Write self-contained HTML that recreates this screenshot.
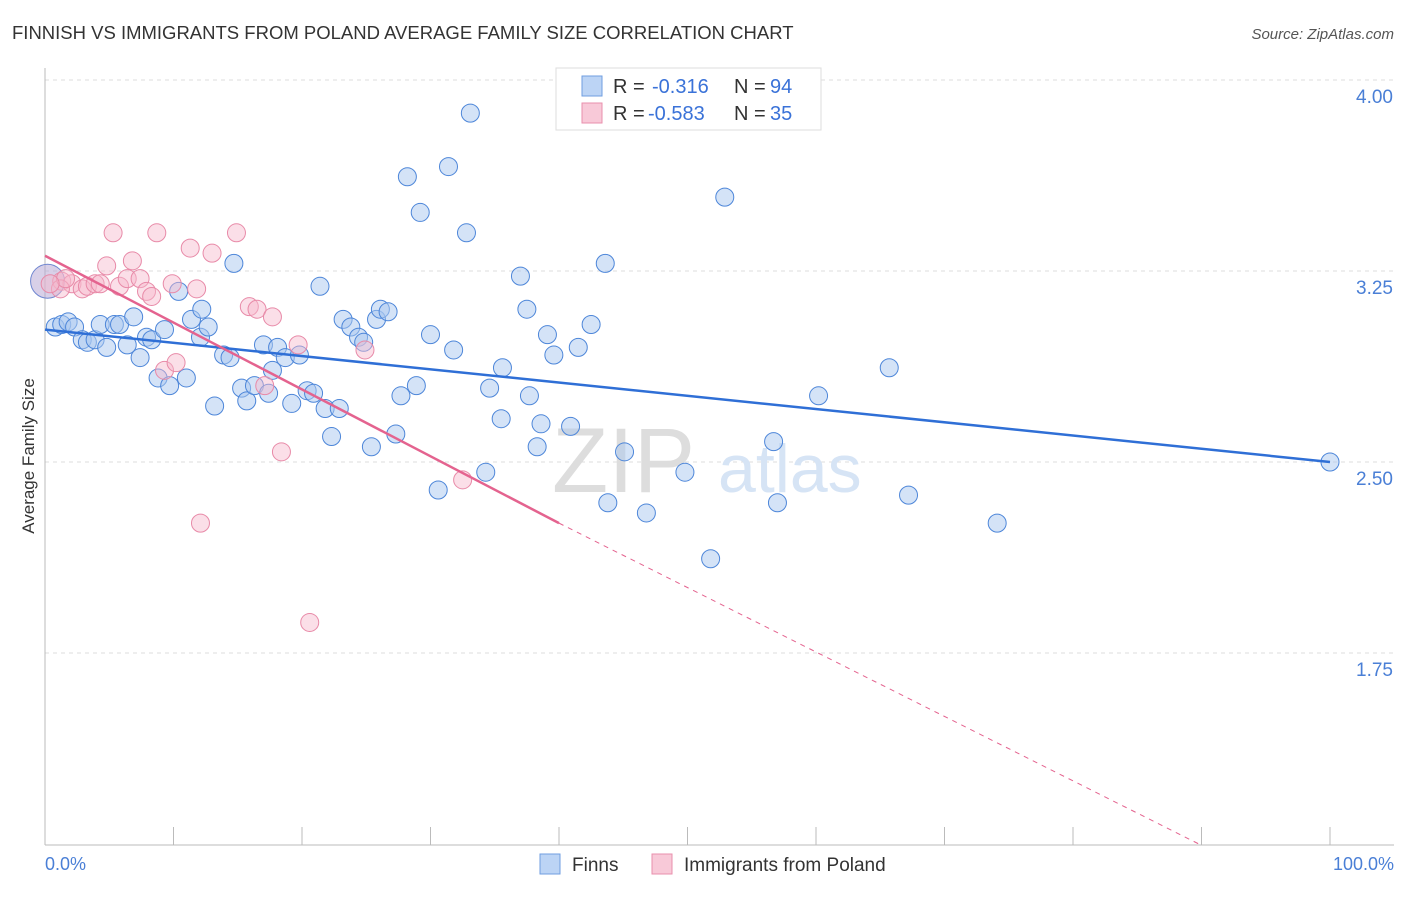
<!DOCTYPE html>
<html><head><meta charset="utf-8"><style>
body{margin:0;background:#fff;font-family:"Liberation Sans",sans-serif;}
svg text{font-family:"Liberation Sans",sans-serif;}
</style></head><body>
<svg width="1406" height="892">
<text x="12" y="39" font-size="18.5" fill="#333">FINNISH VS IMMIGRANTS FROM POLAND AVERAGE FAMILY SIZE CORRELATION CHART</text>
<text x="1394" y="39" font-size="15" fill="#555" text-anchor="end" font-style="italic">Source: ZipAtlas.com</text>
<g id="grid"></g>
<g>
<text x="552" y="492" font-size="92" fill="#ddd" font-family="Liberation Serif">ZIP</text>
<text x="718" y="492" font-size="68" fill="#d6e4f5">atlas</text>
</g>
<line x1="45" y1="68" x2="45" y2="845" stroke="#bbb"/>
<line x1="45" y1="845" x2="1394" y2="845" stroke="#bbb"/>
<g id="ticks"></g>
<g id="ylabels"></g>
<text x="45" y="870" font-size="18" fill="#4a7fd6">0.0%</text>
<text x="1394" y="870" font-size="18" fill="#4a7fd6" text-anchor="end">100.0%</text>
<text transform="translate(34,456) rotate(-90)" font-size="17" fill="#333" text-anchor="middle">Average Family Size</text>
<g id="pts"></g>
<g id="lines"></g>
<g>
<rect x="556" y="68" width="265" height="62" fill="#fff" stroke="#ddd"/>
<rect x="582" y="76" width="20" height="20" fill="#bcd4f5" stroke="#6f9ee0"/>
<rect x="582" y="103" width="20" height="20" fill="#f8c9d8" stroke="#e98fac"/>
<text x="613" y="93" font-size="20" fill="#333">R =</text>
<text x="652" y="93" font-size="20" fill="#3a72d8">-0.316</text>
<text x="734" y="93" font-size="20" fill="#333">N =</text>
<text x="770" y="93" font-size="20" fill="#3a72d8">94</text>
<text x="613" y="120" font-size="20" fill="#333">R =</text>
<text x="648" y="120" font-size="20" fill="#3a72d8">-0.583</text>
<text x="734" y="120" font-size="20" fill="#333">N =</text>
<text x="770" y="120" font-size="20" fill="#3a72d8">35</text>
</g>
<g>
<rect x="540" y="854" width="20" height="20" fill="#bcd4f5" stroke="#6f9ee0"/>
<text x="572" y="871" font-size="19" fill="#333">Finns</text>
<rect x="652" y="854" width="20" height="20" fill="#f8c9d8" stroke="#e98fac"/>
<text x="684" y="871" font-size="19" fill="#333">Immigrants from Poland</text>
</g>
</svg>
<script>
const yTicks=[4.00,3.25,2.50,1.75];
const xTickCount=10;
const finnsX=[0.8,1.3,1.8,2.3,2.9,3.3,3.9,4.3,4.8,5.4,
5.8,6.4,6.9,7.4,7.9,8.3,8.8,9.3,9.7,10.4,
11.0,11.4,12.1,12.2,12.7,13.2,13.9,14.4,14.7,15.3,
15.7,16.3,17.0,17.4,17.7,18.1,18.7,19.2,19.8,20.4,
20.9,21.4,21.8,22.3,22.9,23.2,23.8,24.4,24.8,25.4,
25.8,26.1,26.7,27.3,27.7,28.2,28.9,29.2,30.0,30.6,
31.4,31.8,32.8,33.1,34.3,34.6,35.5,35.6,37.0,37.5,
37.7,38.3,38.6,39.1,39.6,40.9,41.5,42.5,43.6,43.8,
45.1,46.8,49.8,51.8,52.9,56.7,57.0,60.2,65.7,67.2,
74.1,100];
const finnsY=[3.03,3.04,3.05,3.03,2.98,2.97,2.98,3.04,2.95,3.04,
3.04,2.96,3.07,2.91,2.99,2.98,2.83,3.02,2.80,3.17,
2.83,3.06,2.99,3.10,3.03,2.72,2.92,2.91,3.28,2.79,
2.74,2.80,2.96,2.77,2.86,2.95,2.91,2.73,2.92,2.78,
2.77,3.19,2.71,2.60,2.71,3.06,3.03,2.99,2.97,2.56,
3.06,3.10,3.09,2.61,2.76,3.62,2.80,3.48,3.00,2.39,
3.66,2.94,3.40,3.87,2.46,2.79,2.67,2.87,3.23,3.10,
2.76,2.56,2.65,3.00,2.92,2.64,2.95,3.04,3.28,2.34,
2.54,2.30,2.46,2.12,3.54,2.58,2.34,2.76,2.87,2.37,
2.26,2.50];
const finnsBigX=[0.2];const finnsBigY=[3.21];
const polX=[1.3,2.1,2.9,3.3,3.9,4.3,4.8,5.3,5.8,6.4,
6.8,7.4,7.9,8.3,8.7,9.3,9.9,10.2,11.3,11.8,
12.1,13.0,14.9,15.9,16.5,17.1,17.7,18.4,19.7,20.6,
24.9,32.5,1.2,1.6,0.4];
const polY=[3.21,3.20,3.18,3.19,3.20,3.20,3.27,3.40,3.19,3.22,
3.29,3.22,3.17,3.15,3.40,2.86,3.20,2.89,3.34,3.18,
2.26,3.32,3.40,3.11,3.10,2.80,3.07,2.54,2.96,1.87,
2.94,2.43,3.18,3.22,3.20];
const X=v=>45+v*12.85, Y=v=>80+(4-v)*254.67;
const NS="http://www.w3.org/2000/svg";
function mk(tag,attrs,parent){const e=document.createElementNS(NS,tag);for(const k in attrs)e.setAttribute(k,attrs[k]);document.getElementById(parent).appendChild(e);return e;}
yTicks.forEach(t=>{const l=mk('line',{x1:45,x2:1394,y1:Y(t),y2:Y(t),stroke:'#ddd','stroke-dasharray':'4,4'},'grid');


const tx=mk('text',{x:1393,y:Y(t)+23,'font-size':19,fill:'#4a7fd6','text-anchor':'end'},'ylabels');tx.textContent=t.toFixed(2);

});
for(let i=0;i<=xTickCount;i++){const l=mk('line',{x1:X(i*10),x2:X(i*10),y1:827,y2:845,stroke:'#bbb'},'ticks');

}
function dot(x,y,r,f,s,o){return mk('circle',{cx:X(x),cy:Y(y),r:r,fill:f,'fill-opacity':o,stroke:s,'stroke-width':1},'pts');}
finnsX.forEach((x,i)=>{const c=dot(x,finnsY[i],9,'#a9c8f0','#4d86d9',0.5);

});
finnsBigX.forEach((x,i)=>{const c=dot(x,finnsBigY[i],17,'#b8a9d6','#6f86d0',0.55);

});
polX.forEach((x,i)=>{const c=dot(x,polY[i],9,'#f6b8cc','#e88aa8',0.45);

});
const bl=mk('line',{x1:X(0),y1:Y(3.02),x2:X(100),y2:Y(2.50),stroke:'#2f6fd6','stroke-width':2.5},'lines');


const pl=mk('line',{x1:X(0),y1:Y(3.31),x2:X(40),y2:Y(2.26),stroke:'#e4638f','stroke-width':2.5},'lines');


const pd=mk('line',{x1:X(40),y1:Y(2.26),x2:X(89.8),y2:Y(1.0),stroke:'#e4638f','stroke-width':1,'stroke-dasharray':'5,5'},'lines');


</script>
</body></html>
